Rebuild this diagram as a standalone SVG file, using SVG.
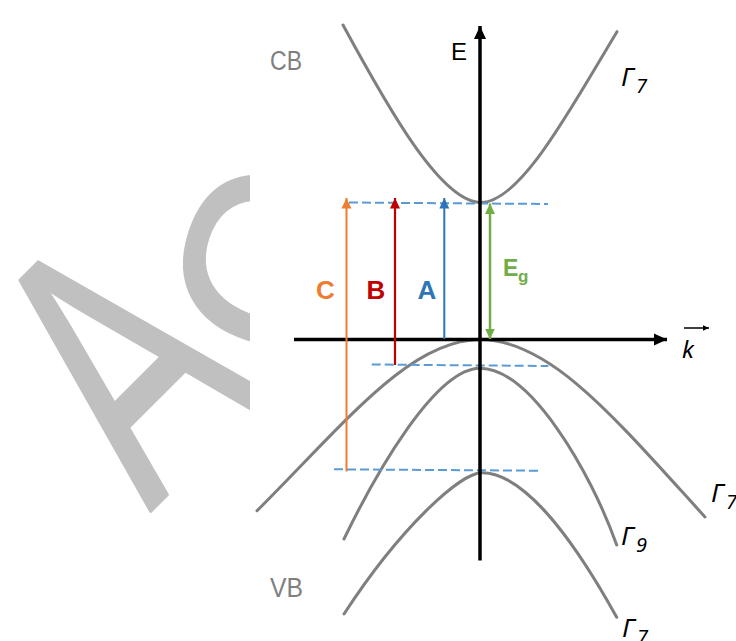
<svg xmlns="http://www.w3.org/2000/svg" width="736" height="641" viewBox="0 0 736 641">
<style>
.band{fill:none;stroke:#7f7f7f;stroke-width:3;stroke-linecap:round}
.dash{fill:none;stroke:#5b9bd5;stroke-width:2;stroke-dasharray:9 4}
.axis{fill:none;stroke:#000;stroke-width:3.5}
.lbl{font-family:"Liberation Sans",Arial,sans-serif;font-weight:bold;font-size:26px;text-anchor:middle}
.grey{font-family:"Liberation Sans",Arial,sans-serif;font-size:27px;fill:#7f7f7f}
.gam{font-family:"Noto Sans","DejaVu Sans",sans-serif;font-style:italic;fill:#000}
.wm{font-family:"Liberation Sans",Arial,sans-serif;fill:#c0c0c0;stroke:#c0c0c0;stroke-width:3;stroke-linejoin:round}
</style>
<defs>
<marker id="ahBlack" markerUnits="userSpaceOnUse" markerWidth="14" markerHeight="14" viewBox="0 0 14 14" refX="13" refY="7" orient="auto"><path d="M0,1 L13,7 L0,13 z" fill="#000"/></marker>
<marker id="ahO" markerUnits="userSpaceOnUse" markerWidth="11" markerHeight="11" viewBox="0 0 11 11" refX="10.5" refY="5.5" orient="auto"><path d="M0,0.5 L10.5,5.5 L0,10.5 z" fill="#ed7d31"/></marker>
<marker id="ahR" markerUnits="userSpaceOnUse" markerWidth="11" markerHeight="11" viewBox="0 0 11 11" refX="10.5" refY="5.5" orient="auto"><path d="M0,0.5 L10.5,5.5 L0,10.5 z" fill="#c00000"/></marker>
<marker id="ahB" markerUnits="userSpaceOnUse" markerWidth="11" markerHeight="11" viewBox="0 0 11 11" refX="10.5" refY="5.5" orient="auto"><path d="M0,0.5 L10.5,5.5 L0,10.5 z" fill="#2e75b6"/></marker>
<marker id="ahG" markerUnits="userSpaceOnUse" markerWidth="11" markerHeight="11" viewBox="0 0 11 11" refX="10.5" refY="5.5" orient="auto-start-reverse"><path d="M0,0.5 L10.5,5.5 L0,10.5 z" fill="#70ad47"/></marker>
<marker id="ahK" markerUnits="userSpaceOnUse" markerWidth="7" markerHeight="7" viewBox="0 0 7 7" refX="6.5" refY="3.5" orient="auto"><path d="M0,0.5 L6.5,3.5 L0,6.5 z" fill="#000"/></marker>
</defs>
<rect width="736" height="641" fill="#fff"/>
<g id="watermark">
<text class="wm" font-size="372" transform="translate(150,512) rotate(-45) scale(0.68,1)">A</text>
<text class="wm" font-size="250" transform="translate(326,378) rotate(-72)">C</text>
</g>
<rect x="250" y="15" width="486" height="626" fill="#fff"/>
<g id="bands">
<path id="cb-gamma7" class="band" d="M343,25 C388,108 441,202.5 481,202.5 C521,202.5 572,106 617,31.7"/>
<path id="vb-gamma7-outer" class="band" d="M257,510.7 C347,420.7 410,340 480,339.5 C550,339.5 615,418 705,517"/>
<path id="vb-gamma9" class="band" d="M344,539 C375,475 435,368.3 480,368.3 C530,368.3 590,470 616.7,545"/>
<path id="vb-gamma7-inner" class="band" d="M344,614 C400,528 460,472.7 482,472.7 C530,472.7 585,560 616.7,617.3"/>
</g>
<g id="connectors">
<line class="dash" x1="349" y1="202.5" x2="548" y2="204"/>
<line class="dash" x1="371.7" y1="364.5" x2="548.3" y2="366"/>
<line class="dash" x1="334" y1="469.3" x2="538.3" y2="470.7"/>
<line class="axis" x1="480" y1="560.5" x2="480" y2="26" marker-end="url(#ahBlack)"/>
<line class="axis" x1="294" y1="339.5" x2="667" y2="339.5" marker-end="url(#ahBlack)"/>
<line x1="346.5" y1="471.5" x2="346.5" y2="198" stroke="#ed7d31" stroke-width="2" marker-end="url(#ahO)"/>
<line x1="395" y1="365" x2="395" y2="198" stroke="#c00000" stroke-width="2.2" marker-end="url(#ahR)"/>
<line x1="444.3" y1="339" x2="444.3" y2="198" stroke="#2e75b6" stroke-width="2" marker-end="url(#ahB)"/>
<line x1="490" y1="203.5" x2="490" y2="339" stroke="#70ad47" stroke-width="2.5" marker-start="url(#ahG)" marker-end="url(#ahG)"/>
<line x1="684" y1="328" x2="709" y2="328" stroke="#000" stroke-width="1.5" marker-end="url(#ahK)"/>
</g>
<g id="labels">
<text x="270" y="70" class="grey" textLength="32" lengthAdjust="spacingAndGlyphs">CB</text>
<text x="270" y="597" class="grey" textLength="33" lengthAdjust="spacingAndGlyphs">VB</text>
<text x="451" y="60" font-family="Liberation Sans, Arial, sans-serif" font-size="24" fill="#000">E</text>
<text x="325.5" y="299" class="lbl" fill="#ed7d31">C</text>
<text x="376" y="299" class="lbl" fill="#c00000">B</text>
<text x="427" y="299" class="lbl" fill="#2e75b6">A</text>
<text x="503" y="276" font-family="Liberation Sans, Arial, sans-serif" font-weight="bold" font-size="23" fill="#70ad47">E<tspan x="518" y="281.5" font-size="17">g</tspan></text>
<text x="682" y="358" class="gam" font-size="24">k</text>
<text x="621" y="86" class="gam" font-size="26">Γ<tspan x="636" y="93" font-size="20">7</tspan></text>
<text x="711" y="502" class="gam" font-size="26">Γ<tspan x="726" y="509" font-size="20">7</tspan></text>
<text x="621" y="545" class="gam" font-size="26">Γ<tspan x="636" y="552" font-size="20">9</tspan></text>
<text x="622" y="637" class="gam" font-size="26">Γ<tspan x="637" y="644" font-size="20">7</tspan></text>
</g>
</svg>
